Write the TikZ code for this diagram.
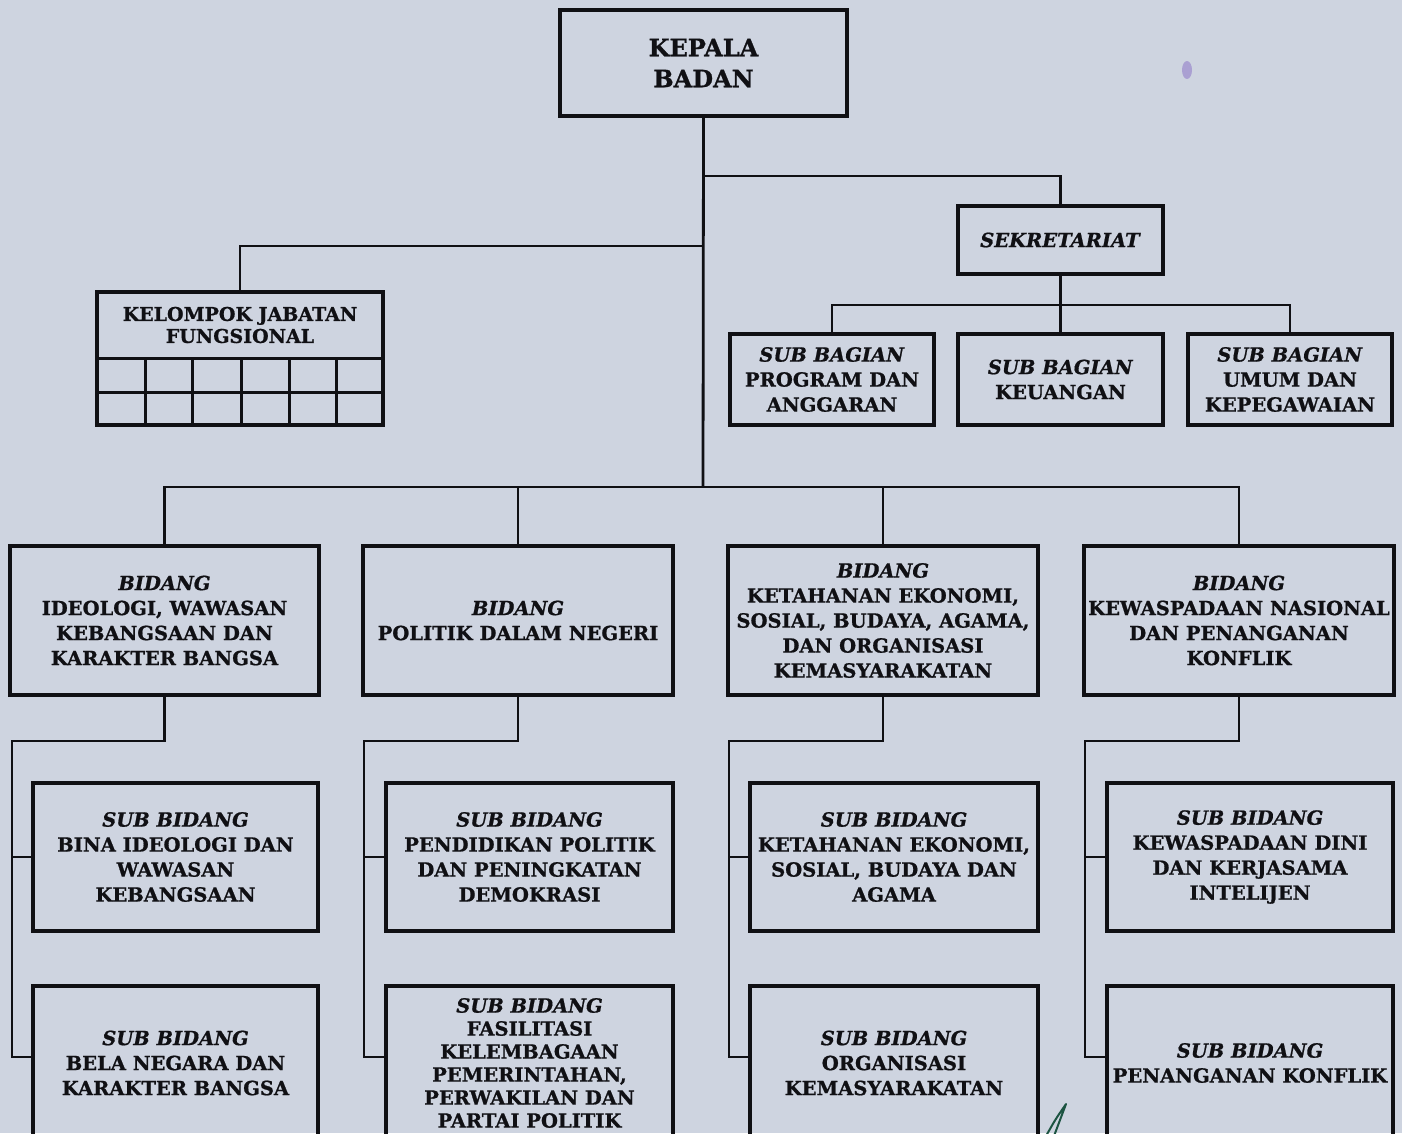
\documentclass[tikz,border=0pt]{standalone}
\usepackage{fontspec}
\setmainfont{DejaVu Serif}[BoldFeatures={FakeBold=0.9},BoldItalicFeatures={FakeBold=0.9}]
\definecolor{paper}{RGB}{206,212,224}
\definecolor{ink}{RGB}{16,16,20}
\definecolor{pen}{RGB}{28,84,66}
\definecolor{smudge}{RGB}{155,138,205}
\tikzset{
  box/.style={draw=ink, line width=3.2pt, rectangle, inner sep=0pt, align=center,
              text=ink, font=\bfseries\fontsize{19.5}{25}\selectfont},
  conn/.style={draw=ink, line width=2.8pt},
}
\begin{document}
\begin{tikzpicture}[x=1pt,y=-1pt]
\fill[paper] (0,0) rectangle (1402,1133);
\useasboundingbox (0,0) rectangle (1402,1133);
\begin{scope}
\clip (0,0) rectangle (1402,1133);
% smudge
\fill[smudge, opacity=0.7] (1187,70) ellipse (5 and 9);

% top level
\node[box, minimum width=287pt, minimum height=106pt, font=\bfseries\fontsize{24}{31}\selectfont] (kep) at (703.5,63) {KEPALA\\BADAN};
\node[box, minimum width=205pt, minimum height=68pt] (sek) at (1060.5,240) {\textit{SEKRETARIAT}};
\node[box, minimum width=204pt, minimum height=91pt] (sb1) at (832,379.5) {\textit{SUB BAGIAN}\\PROGRAM DAN\\ANGGARAN};
\node[box, minimum width=205pt, minimum height=91pt] (sb2) at (1060.5,379.5) {\textit{SUB BAGIAN}\\KEUANGAN};
\node[box, minimum width=204pt, minimum height=91pt] (sb3) at (1290,379.5) {\textit{SUB BAGIAN}\\UMUM DAN\\KEPEGAWAIAN};

% kelompok jabatan fungsional
\node[box, minimum width=286pt, minimum height=133pt] (kel) at (240,358.5) {};
\node[text=ink, align=center, inner sep=0pt, font=\bfseries\fontsize{19}{22}\selectfont] (kelt) at (240,325) {KELOMPOK JABATAN\\FUNGSIONAL};
\draw[ink, line width=3pt] (kel.west |- 0,358) -- (kel.east |- 0,358);
\draw[ink, line width=3pt] (kel.west |- 0,392) -- (kel.east |- 0,392);
\foreach \cx in {145,192,241,289,336}
  \draw[ink, line width=3pt] (\cx,358) -- (\cx,425);

% bidang
\node[box, minimum width=309pt, minimum height=149pt] (b1) at (164.5,620.5) {\textit{BIDANG}\\IDEOLOGI, WAWASAN\\KEBANGSAAN DAN\\KARAKTER BANGSA};
\node[box, minimum width=310pt, minimum height=149pt] (b2) at (518,620.5) {\textit{BIDANG}\\POLITIK DALAM NEGERI};
\node[box, minimum width=310pt, minimum height=149pt] (b3) at (883,620.5) {\textit{BIDANG}\\KETAHANAN EKONOMI,\\SOSIAL, BUDAYA, AGAMA,\\DAN ORGANISASI\\KEMASYARAKATAN};
\node[box, minimum width=310pt, minimum height=149pt] (b4) at (1239,620.5) {\textit{BIDANG}\\KEWASPADAAN NASIONAL\\DAN PENANGANAN\\KONFLIK};

% sub bidang row 1
\node[box, minimum width=285pt, minimum height=148pt] (s11) at (175.5,857) {\textit{SUB BIDANG}\\BINA IDEOLOGI DAN\\WAWASAN\\KEBANGSAAN};
\node[box, minimum width=287pt, minimum height=148pt] (s21) at (529.5,857) {\textit{SUB BIDANG}\\PENDIDIKAN POLITIK\\DAN PENINGKATAN\\DEMOKRASI};
\node[box, minimum width=288pt, minimum height=148pt] (s31) at (894,857) {\textit{SUB BIDANG}\\KETAHANAN EKONOMI,\\SOSIAL, BUDAYA DAN\\AGAMA};
\node[box, minimum width=286pt, minimum height=148pt] (s41) at (1250,857) {\textit{SUB BIDANG}\\KEWASPADAAN DINI\\DAN KERJASAMA\\INTELIJEN};

% sub bidang row 2 (cut by the page edge)
\node[box, minimum width=285pt, minimum height=154pt] (s12) at (175.5,1063) {\textit{SUB BIDANG}\\BELA NEGARA DAN\\KARAKTER BANGSA};
\node[box, minimum width=287pt, minimum height=154pt, font=\bfseries\fontsize{19.5}{23}\selectfont] (s22) at (529.5,1063) {\textit{SUB BIDANG}\\FASILITASI\\KELEMBAGAAN\\PEMERINTAHAN,\\PERWAKILAN DAN\\PARTAI POLITIK};
\node[box, minimum width=288pt, minimum height=154pt] (s32) at (894,1063) {\textit{SUB BIDANG}\\ORGANISASI\\KEMASYARAKATAN};
\node[box, minimum width=286pt, minimum height=154pt] (s42) at (1250,1063) {\textit{SUB BIDANG}\\PENANGANAN KONFLIK};

% connectors: top
\coordinate (bus) at (703,487);
\coordinate (jsek) at (703,176);
\coordinate (jkel) at (703,246);
\draw[conn] (kep.south) -- (bus);
\draw[conn] (jsek) -| (sek.north);
\draw[conn] (jkel) -| (kel.north);
\draw[conn] (sek.south) -- (sb2.north);
\draw[conn] (sb1.north) |- (sek.south |- 0,305) -| (sb3.north);
\draw[conn] (b1.north) |- (bus) -| (b4.north);
\draw[conn] (b2.north) -- (b2.north |- bus);
\draw[conn] (b3.north) -- (b3.north |- bus);

% connectors: columns
\coordinate (v1) at (12,741);
\coordinate (v2) at (364,741);
\coordinate (v3) at (729,741);
\coordinate (v4) at (1085,741);
\draw[conn] (b1.south) |- (v1) -- (v1 |- 0,1057) -- (s12.west |- 0,1057);
\draw[conn] (v1 |- s11.west) -- (s11.west);
\draw[conn] (b2.south) |- (v2) -- (v2 |- 0,1057) -- (s22.west |- 0,1057);
\draw[conn] (v2 |- s21.west) -- (s21.west);
\draw[conn] (b3.south) |- (v3) -- (v3 |- 0,1057) -- (s32.west |- 0,1057);
\draw[conn] (v3 |- s31.west) -- (s31.west);
\draw[conn] (b4.south) |- (v4) -- (v4 |- 0,1057) -- (s42.west |- 0,1057);
\draw[conn] (v4 |- s41.west) -- (s41.west);

% pen stroke
\draw[pen, line width=2pt, line cap=round, line join=round] (1046,1136) .. controls (1055,1120) .. (1066,1104) .. controls (1060,1120) .. (1054,1136);
\end{scope}
\end{tikzpicture}
\end{document}
